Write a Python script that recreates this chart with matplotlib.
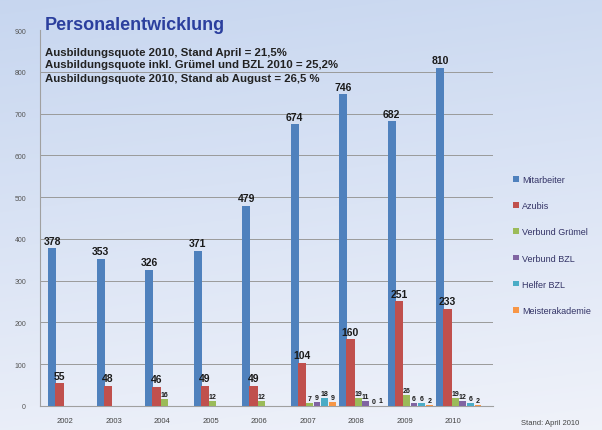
import numpy as np
import matplotlib
matplotlib.use("Agg")
import matplotlib.pyplot as plt

plt.rcParams['font.family'] = ['Liberation Sans', 'DejaVu Sans']

years = ['2002', '2003', '2004', '2005', '2006', '2007', '2008', '2009', '2010']
nan = np.nan
mitarbeiter = [378, 353, 326, 371, 479, 674, 746, 682, 810]
azubis = [55, 48, 46, 49, 49, 104, 160, 251, 233]
gruemel = [nan, nan, 16, 12, 12, 7, 19, 26, 19]
bzl = [nan, nan, nan, nan, nan, 9, 11, 6, 12]
helfer = [nan, nan, nan, nan, nan, 18, 0, 6, 6]
meister = [nan, nan, nan, nan, nan, 9, 1, 2, 2]

series = [
    ('Mitarbeiter', mitarbeiter, '#4f81bd'),
    ('Azubis', azubis, '#c0504d'),
    ('Verbund Grümel', gruemel, '#9bbb59'),
    ('Verbund BZL', bzl, '#8064a2'),
    ('Helfer BZL', helfer, '#4bacc6'),
    ('Meisterakademie', meister, '#f79646'),
]
offsets = [-0.27, -0.12, 0.04, 0.19, 0.35, 0.51]
widths = [0.17, 0.17, 0.14, 0.14, 0.14, 0.14]

fig = plt.figure(figsize=(6.02, 4.31), dpi=100)

# background gradient
bg = fig.add_axes([0, 0, 1, 1], zorder=-10)
gy = np.linspace(0, 1, 200)[:, None]
gx = np.linspace(0, 1, 200)[None, :]
top = np.array([0.78, 0.84, 0.94])
bot = np.array([0.94, 0.95, 0.98])
t = np.clip(gy * 0.85 + gx * 0.15, 0, 1)
img = top[None, None, :] * (1 - t[..., None]) + bot[None, None, :] * t[..., None]
bg.imshow(img, aspect='auto', extent=[0, 1, 0, 1])
bg.axis('off')

ax = fig.add_axes([40 / 602, 1 - 407 / 431, 453 / 602, 376 / 431])
ax.set_facecolor('none')
x = np.arange(len(years))

for (name, vals, col), off, w in zip(series, offsets, widths):
    v = np.array(vals, dtype=float)
    ax.bar(x + off, np.nan_to_num(v), width=w, color=col, label=name,
           edgecolor='none', zorder=3)
    big = name in ('Mitarbeiter', 'Azubis')
    for xi, vi in zip(x + off, v):
        if np.isnan(vi):
            continue
        ax.text(xi, vi + (6 if big else 3), f'{int(vi)}', ha='center', va='bottom',
                fontsize=7.5 if big else 5, fontweight='bold', color='#1a1a1a', zorder=4)

ax.set_ylim(0, 900)
ax.set_xlim(-0.52, 8.82)
ax.set_yticks(range(0, 901, 100))
ax.set_xticks(x)
ax.set_xticklabels(years)
ax.tick_params(axis='y', labelsize=5, colors='#555555', length=0, pad=10)
ax.tick_params(axis='x', labelsize=5.5, colors='#444444', length=0, pad=8)
ax.yaxis.grid(True, color='#9a9a9a', linewidth=0.7)
ax.get_ygridlines()[-1].set_visible(False)
ax.set_axisbelow(True)
for s in ['top', 'right']:
    ax.spines[s].set_visible(False)
ax.spines['left'].set_color('#a0a0a0')
ax.spines['bottom'].set_color('#a0a0a0')

fig.text(45 / 602, 1 - 25 / 431, 'Personalentwicklung', fontsize=13, fontweight='bold',
         color='#2b3f9e', va='center', ha='left')
fig.text(45 / 602, 1 - 53 / 431, 'Ausbildungsquote 2010, Stand April = 21,5%',
         fontsize=8.2, fontweight='bold', color='#222222', va='center')
fig.text(45 / 602, 1 - 65 / 431, 'Ausbildungsquote inkl. Grümel und BZL 2010 = 25,2%',
         fontsize=8.2, fontweight='bold', color='#222222', va='center')
fig.text(45 / 602, 1 - 79 / 431, 'Ausbildungsquote 2010, Stand ab August = 26,5 %',
         fontsize=8.2, fontweight='bold', color='#222222', va='center')
fig.text(550 / 602, 1 - 424 / 431, 'Stand: April 2010', fontsize=5.5, color='#444444',
         ha='center', va='center')

fig.legend(loc='upper left', bbox_to_anchor=(505 / 602, 1 - 168 / 431), frameon=False,
           fontsize=6.5, handlelength=0.6, handleheight=0.6, handletextpad=0.4,
           labelspacing=1.9, labelcolor='#333366')

fig.savefig('out.png', dpi=100)
